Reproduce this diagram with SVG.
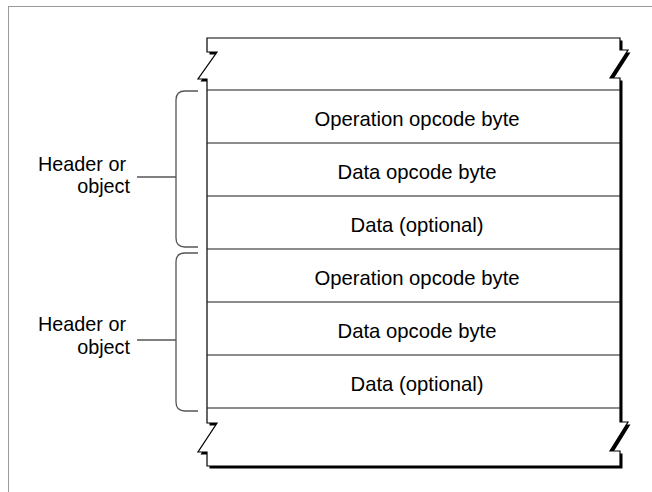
<svg xmlns="http://www.w3.org/2000/svg" width="652" height="492" viewBox="0 0 652 492">
<style>
.lbl{font-family:"Liberation Sans",Arial,sans-serif;font-size:20.3px;fill:#000;text-anchor:middle}
.hdr{font-family:"Liberation Sans",Arial,sans-serif;font-size:19.8px;fill:#000;text-anchor:end}
.row{stroke:#1a1a1a;stroke-width:1.2;fill:none}
.brace{stroke:#555;stroke-width:1.3;fill:none}
</style>
<defs>
<path id="outline" d="M207,52 L207,38 L620,38 L620,50 L628,50 L610,78 L620,78 L620,422 L628,422 L610,451 L620,451 L620,466 L207,466 L207,452 L198,452 L217,423 L207,423 L207,79 L198,79 L217,52 Z"/>
</defs>
<rect x="8.5" y="6.5" width="700" height="600" fill="none" stroke="#9a9a9a" stroke-width="1"/>
<g id="stack">
<use href="#outline" transform="translate(2.5,2.5)" fill="#000"/>
<use href="#outline" fill="#fff" stroke="#000" stroke-width="1.2" stroke-linejoin="miter"/>
</g>
<g id="row1"><line class="row" x1="207" y1="90" x2="620" y2="90"/><text class="lbl" x="417" y="126">Operation opcode byte</text></g>
<g id="row2"><line class="row" x1="207" y1="143" x2="620" y2="143"/><text class="lbl" x="417" y="179">Data opcode byte</text></g>
<g id="row3"><line class="row" x1="207" y1="196" x2="620" y2="196"/><text class="lbl" x="417" y="232">Data (optional)</text></g>
<g id="row4"><line class="row" x1="207" y1="249" x2="620" y2="249"/><text class="lbl" x="417" y="285">Operation opcode byte</text></g>
<g id="row5"><line class="row" x1="207" y1="302" x2="620" y2="302"/><text class="lbl" x="417" y="338">Data opcode byte</text></g>
<g id="row6"><line class="row" x1="207" y1="355" x2="620" y2="355"/><line class="row" x1="207" y1="408" x2="620" y2="408"/><text class="lbl" x="417" y="391">Data (optional)</text></g>
<g id="label1">
<text class="hdr" x="126" y="171">Header or</text>
<text class="hdr" x="130" y="193">object</text>
</g>
<g id="label2">
<text class="hdr" x="126" y="331">Header or</text>
<text class="hdr" x="130" y="354">object</text>
</g>
<g id="connectors">
<path class="brace" d="M198,91 L185,91 Q176,91 176,100 L176,238 Q176,247 185,247 L198,247"/>
<line class="brace" x1="137" y1="177" x2="176" y2="177"/>
<path class="brace" d="M198,253 L185,253 Q176,253 176,262 L176,402 Q176,411 185,411 L198,411"/>
<line class="brace" x1="137" y1="340" x2="176" y2="340"/>
</g>
</svg>
